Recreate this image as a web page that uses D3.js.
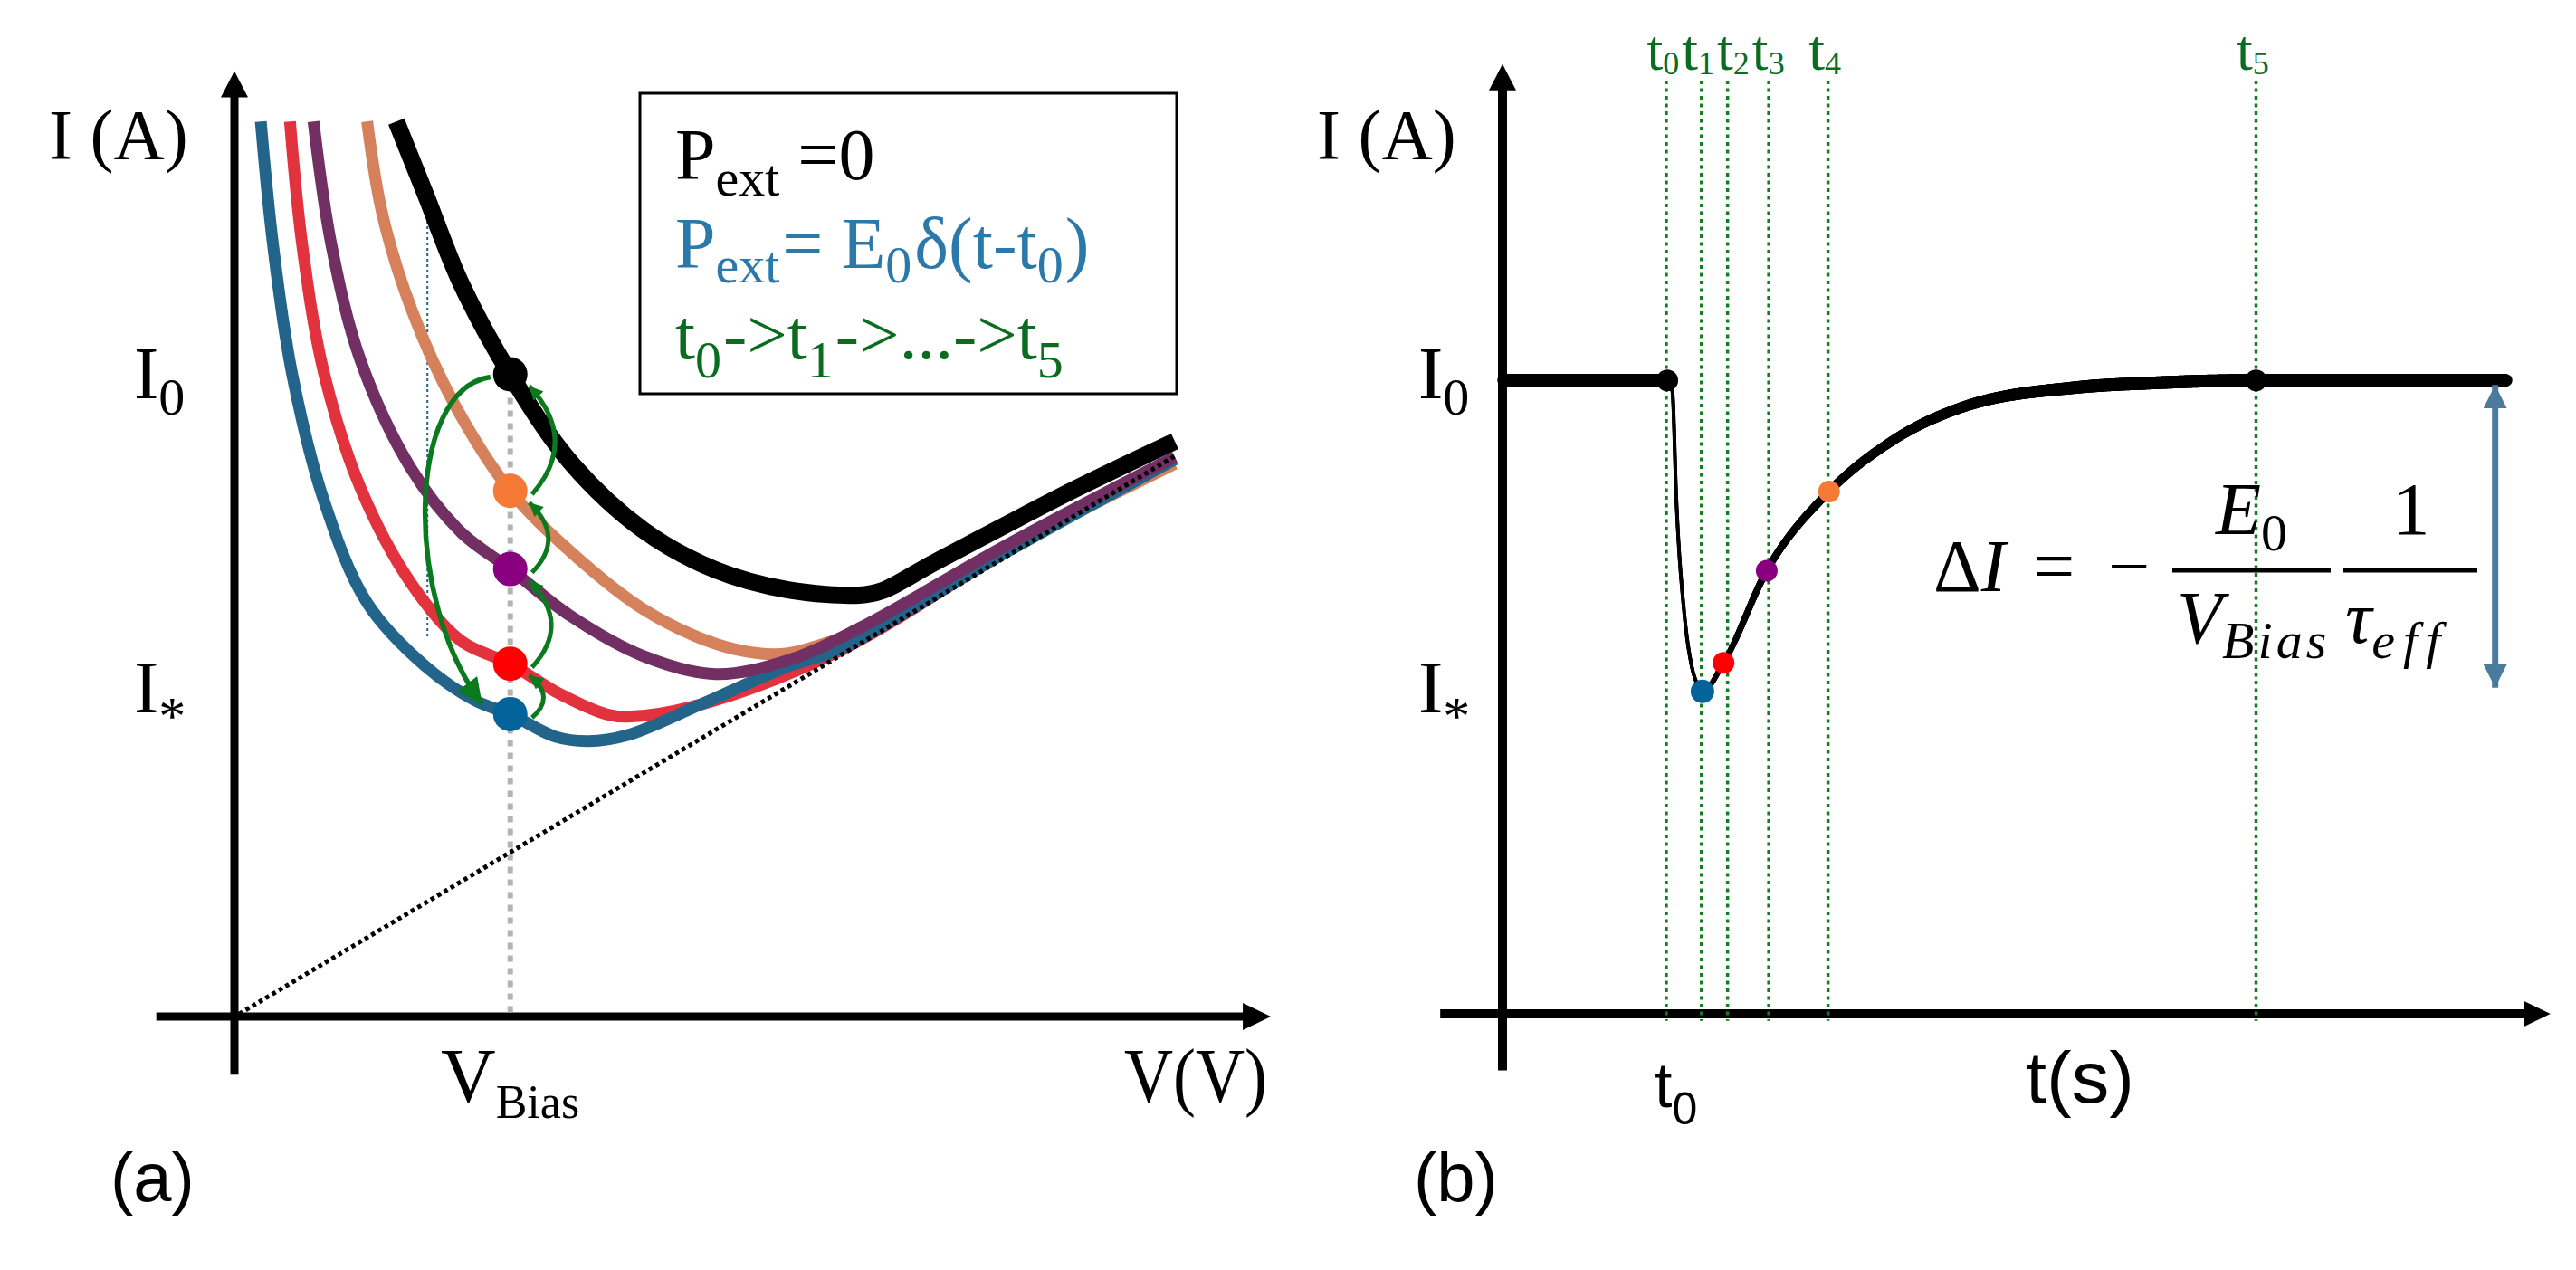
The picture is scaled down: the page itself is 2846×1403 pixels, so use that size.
<!DOCTYPE html>
<html><head><meta charset="utf-8">
<script src="https://cdn.jsdelivr.net/npm/d3@7"></script>
<style>
html,body{margin:0;padding:0;background:#fff;}
svg{display:block;}
text{white-space:pre;}
</style></head><body>
<svg id="chart" width="2846" height="1403"></svg>
<script>
// ================= DATA =================
// Panel (a): I-V curves (arbitrary units), V and I values
const blueV   = [0.28,0.41,0.61,0.95,1.41,2.03,2.57,2.93,3.41,3.76,4.18,4.95,5.88,6.41,8.21,9.99];
const blueI   = [10.30,8.88,7.41,5.94,4.76,4.03,3.63,3.48,3.22,3.17,3.24,3.59,4.03,4.22,5.35,6.41];
const redV    = [0.59,0.72,0.95,1.34,1.88,2.41,2.93,3.41,3.95,4.18,4.95,6.41,8.21,9.99];
const redI    = [10.30,8.88,7.41,6.08,4.98,4.32,4.06,3.74,3.48,3.45,3.59,4.20,5.36,6.42];
const orangeV = [1.41,1.57,1.88,2.34,2.93,3.57,4.34,5.11,5.57,5.88,6.26,6.64,8.21,9.99];
const orangeI = [10.30,9.24,8.14,7.04,6.05,5.35,4.69,4.29,4.18,4.18,4.29,4.44,5.39,6.36];
const purpleV = [0.84,1.03,1.34,1.88,2.41,2.93,3.57,4.34,5.11,5.88,6.64,8.21,9.99];
const purpleI = [10.30,8.88,7.55,6.30,5.57,5.15,4.61,4.15,3.94,4.10,4.47,5.43,6.44];
const blackV  = [1.72,2.03,2.41,2.93,3.57,4.34,5.11,5.88,6.64,6.88,7.41,8.18,8.95,9.99];
const blackI  = [10.30,9.46,8.43,7.39,6.38,5.60,5.14,4.91,4.85,4.90,5.21,5.65,6.08,6.62];
// Ohmic (dotted) line
const ohmV = [0.05, 9.99];
const ohmI = [0.03, 6.45];
// Bias point and the operating points t0..t4 on each curve
const vBias = 2.93;
const opNames = ["black","orange","purple","red","blue"];
const opI     = [7.39, 6.05, 5.15, 4.06, 3.48];
// thin guide line
const guideV = 2.05, guideI = [9.47, 4.36];

// Panel (b): current vs time
const traceT = [0,1.64,1.69,1.73,1.81,1.88,1.95,1.99,2.20,2.63,3.25,3.86,4.60,5.73,6.47,7.50,10.0];
const traceI = [7.29,7.29,7.17,5.93,4.60,4.02,3.77,3.71,4.04,5.10,6.01,6.58,6.99,7.21,7.26,7.29,7.29];
const markT  = [1.63,1.98,2.24,2.65,3.24,7.50];
const markLabels = ["0","1","2","3","4","5"];
const markDotIdx = [1,7,8,9,10,15];
const markDotNames = ["black","blue","red","purple","orange","black"];
const I0 = 7.29, Istar = 3.71, arrowT = 9.88;

// ================= STYLE =================
const curveColor = {blue:"#22648a", red:"#e2323e", orange:"#d5825c", purple:"#722f64", black:"#000"};
const dotColor   = {blue:"#04639b", red:"#ff0000", orange:"#f47a36", purple:"#880080", black:"#000"};
const green = "#0b7a1f", greenText = "#0b6b1f", blueText = "#2b79a8";
const serif = "'Liberation Serif','Times New Roman',serif";
const sans  = "'Liberation Sans',Arial,sans-serif";

const svg = d3.select("#chart");
svg.append("rect").attr("width",2846).attr("height",1403).attr("fill","#fff");

const xA = d3.scaleLinear().domain([0,10]).range([259,1299]);
const yA = d3.scaleLinear().domain([0,10]).range([1123,163]);
const xB = d3.scaleLinear().domain([0,10]).range([1660,2770]);
const yB = d3.scaleLinear().domain([0,10]).range([1120,160]);

const defs = svg.append("defs");
function marker(id, w, h, color, orient) {
  defs.append("marker").attr("id", id).attr("viewBox","0 0 10 10")
    .attr("refX",10).attr("refY",5).attr("markerUnits","userSpaceOnUse")
    .attr("markerWidth", w).attr("markerHeight", h).attr("orient", orient||"auto")
    .append("path").attr("d","M0,0L10,5L0,10Z").attr("fill", color);
}
marker("gSmall", 17, 15, green);
marker("gBig", 34, 28, green);
marker("bArrow", 26, 27, "#4a7b9d", "auto-start-reverse");

function axisArrow(g, x1, y1, x2, y2, w, len, half) {
  const dx = x2-x1, dy = y2-y1, L = Math.hypot(dx,dy), ux = dx/L, uy = dy/L;
  const bx = x2-ux*len, by = y2-uy*len;
  g.append("line").attr("x1",x1).attr("y1",y1).attr("x2",bx+ux*2).attr("y2",by+uy*2)
    .attr("stroke","#000").attr("stroke-width",w);
  g.append("path").attr("d",`M${x2},${y2}L${bx-uy*half},${by+ux*half}L${bx+uy*half},${by-ux*half}Z`).attr("fill","#000");
}

function richText(g, x, y, parts, o={}) {
  const t = g.append("text").attr("x",x).attr("y",y)
    .attr("font-family", o.family||serif).attr("fill", o.fill||"#000");
  if (o.anchor) t.attr("text-anchor", o.anchor);
  if (o.len) t.attr("textLength", o.len).attr("lengthAdjust","spacingAndGlyphs");
  if (o.italic) t.attr("font-style","italic");
  let cur = 0;
  parts.forEach(p => {
    const s = t.append("tspan").text(p.t).attr("font-size", p.size);
    const target = p.shift||0;
    if (target !== cur) { s.attr("dy", target-cur); cur = target; }
    if (p.dx) s.attr("dx", p.dx);
    if (p.italic !== undefined) s.attr("font-style", p.italic ? "italic" : "normal");
    if (p.ls) s.attr("letter-spacing", p.ls);
  });
  return t;
}

// ================= PANEL (a) =================
const gA = svg.append("g");
axisArrow(gA, xA(-0.83), yA(0), xA(11.01), yA(0), 9, 31, 15);
axisArrow(gA, xA(0), yA(-0.67), xA(0), yA(10.88), 9, 29, 15);

// thin teal guide
gA.append("line").attr("x1",xA(guideV)).attr("x2",xA(guideV))
  .attr("y1",yA(guideI[0])).attr("y2",yA(guideI[1]))
  .attr("stroke","#1f6386").attr("stroke-width",2).attr("stroke-dasharray","3,3");

const curves = {
  blue: d3.zip(blueV, blueI), red: d3.zip(redV, redI), orange: d3.zip(orangeV, orangeI),
  purple: d3.zip(purpleV, purpleI), black: d3.zip(blackV, blackI)
};
const lineA = d3.line().x(d=>xA(d[0])).y(d=>yA(d[1])).curve(d3.curveCatmullRom.alpha(0.5));
["orange","red","blue","purple","black"].forEach(k => {
  gA.append("path").attr("d", lineA(curves[k])).attr("fill","none")
    .attr("stroke", curveColor[k]).attr("stroke-width", k==="black"?19:13);
});

// Ohmic dotted line
gA.append("path").attr("d", lineA(d3.zip(ohmV, ohmI))).attr("fill","none")
  .attr("stroke","#000").attr("stroke-width",5).attr("stroke-dasharray","4.5,4");

// V_bias gray dotted
gA.append("line").attr("x1",xA(vBias)).attr("x2",xA(vBias))
  .attr("y1",yA(opI[0])+26).attr("y2",yA(0)-4)
  .attr("stroke","#b4b4b4").attr("stroke-width",6).attr("stroke-dasharray","7,7");

// operating-point dots
const opPos = {};
opNames.forEach((k,i) => {
  opPos[k] = [xA(vBias), yA(opI[i])];
  gA.append("circle").attr("cx",opPos[k][0]).attr("cy",opPos[k][1]).attr("r",19).attr("fill",dotColor[k]);
});

// green arrows
{
  const s = opPos.black, e = opPos.blue;
  gA.append("path")
    .attr("d",`M${s[0]-22},${s[1]+3}C${s[0]-114},${s[1]+16} ${e[0]-119},${e[1]-129} ${e[0]-31},${e[1]-11}`)
    .attr("fill","none").attr("stroke",green).attr("stroke-width",5.5).attr("marker-end","url(#gBig)");
  const seq = ["blue","red","purple","orange","black"];
  for (let i=0;i<seq.length-1;i++) {
    const a = opPos[seq[i]], b = opPos[seq[i+1]];
    const sx = a[0]+24, sy = a[1]+4, ex = b[0]+21, ey = b[1]+13;
    const dist = Math.hypot(ex-sx, ey-sy);
    const cx = (sx+ex)/2 + 0.35*dist + 12, cy = (sy+ey)/2;
    gA.append("path").attr("d",`M${sx},${sy}Q${cx},${cy} ${ex},${ey}`)
      .attr("fill","none").attr("stroke",green).attr("stroke-width",5).attr("marker-end","url(#gSmall)");
  }
}

// legend box
gA.append("rect").attr("x",707).attr("y",103).attr("width",593).attr("height",332)
  .attr("fill","none").attr("stroke","#000").attr("stroke-width",3);
richText(gA, 746, 198, [{t:"P",size:80},{t:"ext",size:58,shift:18},{t:" =0",size:80}]);
richText(gA, 746, 296, [{t:"P",size:80},{t:"ext",size:58,shift:16},{t:"= E",size:80,dx:3},
  {t:"0",size:58,shift:16},{t:"δ(t-t",size:80,dx:3},{t:"0",size:58,shift:16},{t:")",size:80,dx:2}], {fill:blueText});
richText(gA, 746, 396, [{t:"t",size:79},{t:"0",size:58,shift:21},{t:"->t",size:79,dx:2},
  {t:"1",size:58,shift:21},{t:"->...->t",size:79,dx:2},{t:"5",size:58,shift:21}], {fill:greenText});

// axis labels (a)
richText(gA, 54, 175, [{t:"I (A)",size:78}]);
richText(gA, 148, 440, [{t:"I",size:82},{t:"0",size:58,shift:18}]);
richText(gA, 148, 787, [{t:"I",size:82},{t:"*",size:60,shift:24}]);
richText(gA, 487, 1217, [{t:"V",size:84},{t:"Bias",size:52,shift:18}]);
richText(gA, 1242, 1217, [{t:"V(V)",size:84}], {len:158});
richText(gA, 122, 1327, [{t:"(a)",size:76}], {family:sans});

// ================= PANEL (b) =================
const gB = svg.append("g");
axisArrow(gB, xB(-0.62), yB(0), xB(10.43), yB(0), 10, 29, 14);
axisArrow(gB, xB(0), yB(-0.65), xB(0), yB(10.93), 10, 29, 15);

// green dotted time markers + labels laid out without overlap
let prevEnd = -Infinity;
markT.forEach((t,i) => {
  gB.append("line").attr("x1",xB(t)).attr("x2",xB(t)).attr("y1",yB(10.74)).attr("y2",yB(-0.08))
    .attr("stroke","#10801f").attr("stroke-width",3.5).attr("stroke-dasharray","4,4.5");
  const lab = richText(gB, 0, 77, [{t:"t",size:64},{t:markLabels[i],size:36,shift:5}], {fill:greenText});
  const w = lab.node().getComputedTextLength();
  const x0 = Math.max(xB(t) - w*0.6, prevEnd + 3);
  lab.attr("x", x0);
  prevEnd = x0 + w;
});

// trace with variable width
const traceData = d3.zip(traceT, traceI);
const lineB = d3.line().x(d=>xB(d[0])).y(d=>yB(d[1])).curve(d3.curveMonotoneX);
const tmp = gB.append("path").attr("d", lineB(traceData)).attr("fill","none").attr("stroke","none");
const node = tmp.node(), L = node.getTotalLength(), N = 1200;
const pts = d3.range(N+1).map(i => node.getPointAtLength(L*i/N));
const fullWidthT = 5.9;
function widthAt(px) {
  const t = xB.invert(px);
  if (t <= markT[0]+0.01) return 14;
  if (t <= traceT[7]) return 4;
  if (t >= fullWidthT) return 14;
  return 4.5 + 9.5*Math.pow((t-traceT[7])/(fullWidthT-traceT[7]), 0.6);
}
for (let i=0;i<N;i++) {
  const a = pts[i], b = pts[i+1];
  gB.append("line").attr("x1",a.x).attr("y1",a.y).attr("x2",b.x).attr("y2",b.y)
    .attr("stroke","#000").attr("stroke-width", widthAt((a.x+b.x)/2))
    .attr("stroke-linecap", (i===0||i===N-1) ? "butt" : "round");
}
markDotIdx.forEach((k,i) => {
  gB.append("circle").attr("cx",xB(traceT[k])).attr("cy",yB(traceI[k]))
    .attr("r", markDotNames[i]==="blue"?13:12).attr("fill", dotColor[markDotNames[i]]);
});

// double arrow ΔI
gB.append("line").attr("x1",xB(arrowT)).attr("x2",xB(arrowT))
  .attr("y1",yB(I0)+5).attr("y2",yB(Istar)-4)
  .attr("stroke","#4a7b9d").attr("stroke-width",7)
  .attr("marker-start","url(#bArrow)").attr("marker-end","url(#bArrow)");

// formula
{
  const fx = 2136, fy = 653;
  richText(gB, fx, fy, [{t:"Δ",size:82,italic:false},{t:"I",size:82,italic:true}]);
  richText(gB, fx+110, fy, [{t:"=",size:82}]);
  richText(gB, fx+193, fy, [{t:"−",size:82}]);
  gB.append("line").attr("x1",fx+264).attr("x2",fx+439).attr("y1",fy-23).attr("y2",fy-23).attr("stroke","#000").attr("stroke-width",5);
  gB.append("line").attr("x1",fx+453).attr("x2",fx+601).attr("y1",fy-23).attr("y2",fy-23).attr("stroke","#000").attr("stroke-width",5);
  richText(gB, fx+312, fy-63, [{t:"E",size:82,italic:true},{t:"0",size:58,shift:18,italic:false}]);
  richText(gB, fx+269, fy+57, [{t:"V",size:82,italic:true},{t:"Bias",size:58,shift:17,italic:true,ls:4}]);
  richText(gB, fx+528, fy-63, [{t:"1",size:82}], {anchor:"middle"});
  richText(gB, fx+455, fy+57, [{t:"τ",size:82,italic:true},{t:"eff",size:58,shift:17,italic:true,ls:9}]);
}

// axis labels (b)
richText(gB, 1455, 175, [{t:"I (A)",size:78}]);
richText(gB, 1567, 440, [{t:"I",size:82},{t:"0",size:58,shift:18}]);
richText(gB, 1567, 787, [{t:"I",size:82},{t:"*",size:60,shift:24}]);
richText(gB, 1828, 1223, [{t:"t",size:70},{t:"0",size:50,shift:19}], {family:sans});
richText(gB, 2238, 1218, [{t:"t(s)",size:80}], {family:sans, len:120});
richText(gB, 1562, 1327, [{t:"(b)",size:76}], {family:sans});
</script>
</body></html>
